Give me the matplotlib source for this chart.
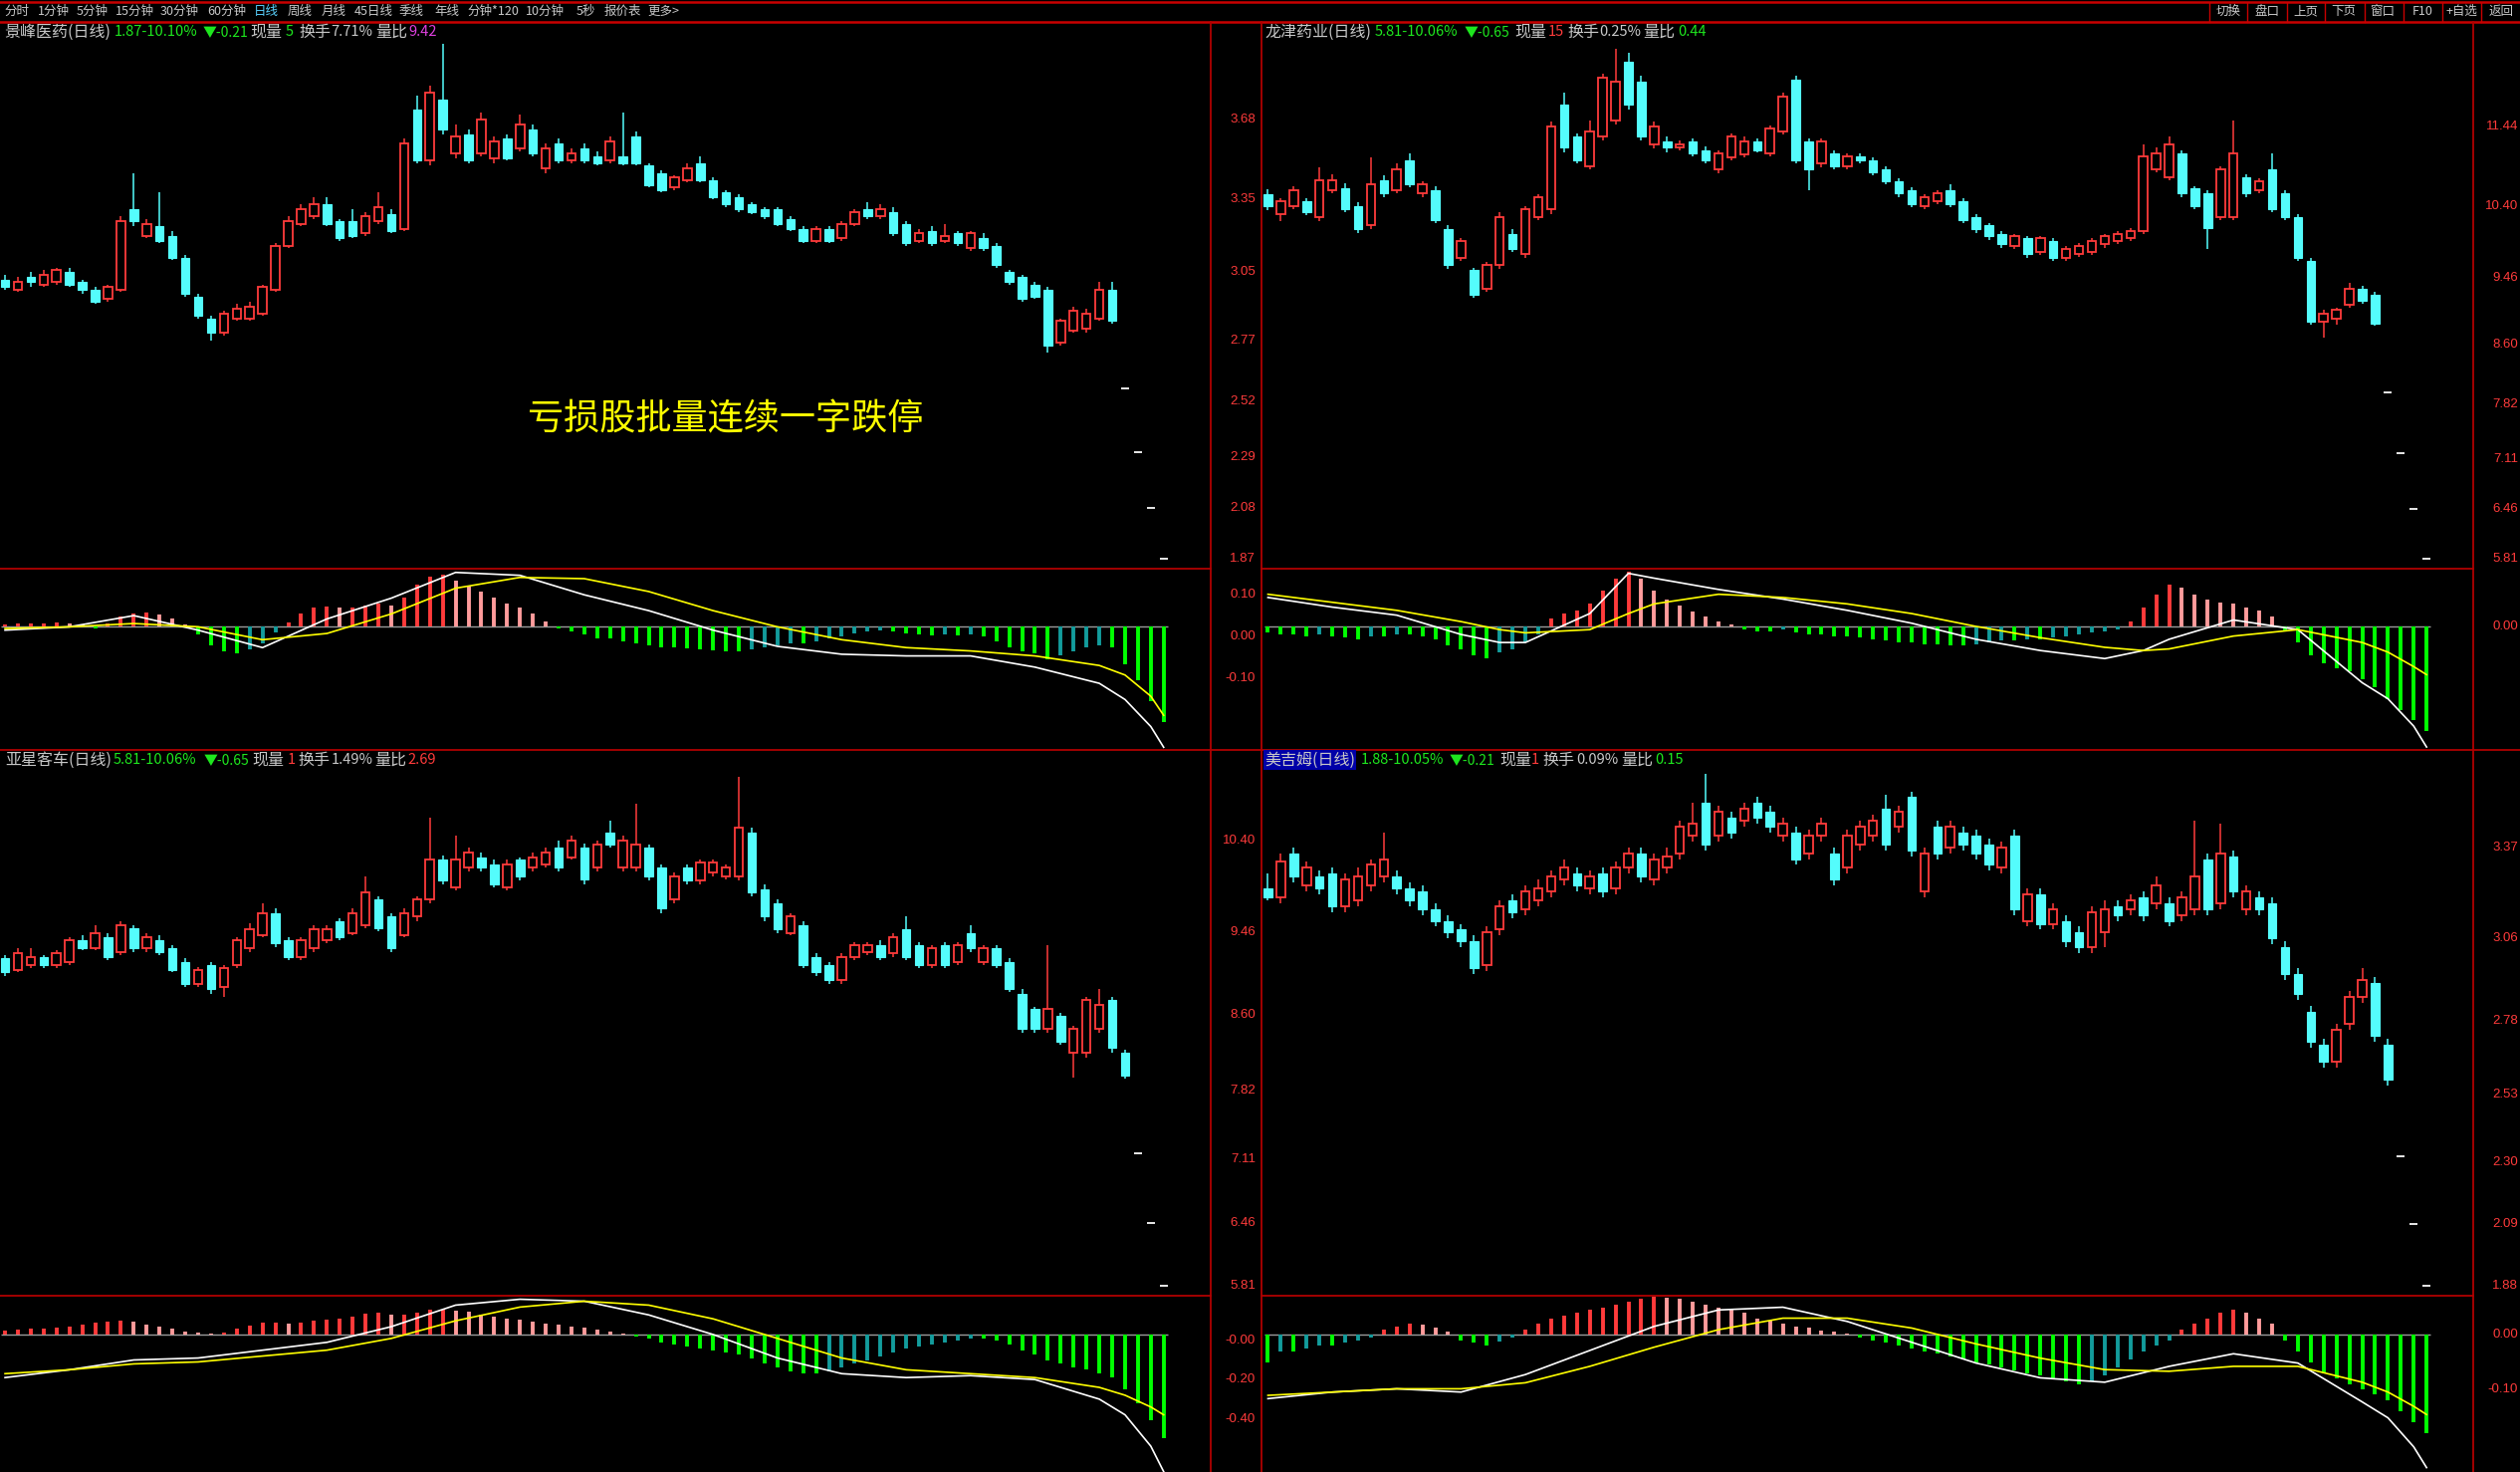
import numpy as np
import matplotlib
matplotlib.use('Agg')
import matplotlib.pyplot as plt
from matplotlib import transforms
from matplotlib.lines import Line2D

plt.rcParams['font.family'] = ['Noto Sans CJK SC', 'DejaVu Sans']

# ---------------- data ----------------
toolbar_items = ['分时', '1分钟', '5分钟', '15分钟', '30分钟', '60分钟', '日线', '周线', '月线',
                 '45日线', '季线', '年线', '分钟*120', '10分钟', '5秒', '报价表', '更多>']
toolbar_buttons = ['切换', '盘口', '上页', '下页', '窗口', 'F10', '+自选', '返回']
overlay_text = '亏损股批量连续一字跌停'

# Panel 1: 景峰医药
p1_open = [3.02,2.98,3.03,3.00,3.01,3.05,3.01,2.98,2.94,2.98, 3.31,3.20,3.24,3.20,3.11,2.95,2.86,2.80,2.86,2.86,
           2.88,2.98,3.16,3.25,3.28,3.33,3.26,3.26,3.21,3.26, 3.29,3.23,3.72,3.51,3.76,3.54,3.62,3.54,3.52,3.60,
           3.56,3.64,3.48,3.58,3.51,3.56,3.53,3.51,3.53,3.61, 3.49,3.46,3.40,3.43,3.50,3.43,3.38,3.36,3.33,3.31,
           3.31,3.27,3.23,3.18,3.23,3.19,3.25,3.31,3.28,3.30, 3.25,3.18,3.22,3.18,3.21,3.15,3.19,3.16,3.05,3.03,
           3.00,2.98,2.76,2.81,2.82,2.86,2.98, 2.57,2.31,2.08,1.87]
p1_close = [2.99,3.01,3.01,3.04,3.06,3.00,2.98,2.93,2.99,3.26, 3.26,3.25,3.18,3.11,2.96,2.87,2.80,2.88,2.90,2.91,
            2.99,3.16,3.26,3.31,3.33,3.25,3.19,3.20,3.28,3.32, 3.22,3.58,3.51,3.79,3.64,3.61,3.51,3.68,3.59,3.52,
            3.66,3.54,3.56,3.51,3.54,3.51,3.50,3.59,3.50,3.50, 3.41,3.39,3.44,3.48,3.43,3.36,3.33,3.31,3.30,3.28,
            3.25,3.23,3.18,3.23,3.18,3.25,3.30,3.28,3.31,3.21, 3.17,3.21,3.17,3.20,3.17,3.21,3.15,3.08,3.01,2.94,
            2.95,2.75,2.85,2.89,2.88,2.98,2.85, 2.57,2.31,2.08,1.87]
p1_high = [3.04,3.03,3.05,3.06,3.07,3.07,3.02,2.99,3.00,3.28, 3.46,3.27,3.38,3.22,3.12,2.96,2.87,2.89,2.92,2.93,
           3.00,3.17,3.28,3.33,3.36,3.36,3.27,3.31,3.30,3.38, 3.31,3.60,3.78,3.82,3.99,3.66,3.64,3.71,3.61,3.62,
           3.70,3.66,3.58,3.60,3.56,3.58,3.55,3.61,3.71,3.63, 3.50,3.47,3.45,3.50,3.53,3.44,3.39,3.37,3.34,3.32,
           3.32,3.28,3.24,3.24,3.24,3.26,3.31,3.34,3.33,3.32, 3.26,3.23,3.24,3.25,3.22,3.22,3.21,3.17,3.06,3.04,
           3.01,2.99,2.86,2.91,2.90,3.01,3.01, 2.57,2.31,2.08,1.87]
p1_low = [2.98,2.97,2.99,2.99,3.00,2.99,2.96,2.92,2.93,2.97, 3.24,3.19,3.17,3.10,2.95,2.86,2.77,2.79,2.85,2.85,
          2.87,2.97,3.15,3.24,3.27,3.24,3.18,3.19,3.20,3.25, 3.21,3.22,3.50,3.49,3.62,3.52,3.50,3.53,3.50,3.51,
          3.55,3.53,3.46,3.50,3.50,3.50,3.49,3.50,3.49,3.49, 3.40,3.38,3.39,3.42,3.42,3.35,3.32,3.30,3.29,3.27,
          3.24,3.22,3.17,3.17,3.17,3.18,3.24,3.27,3.27,3.20, 3.16,3.17,3.16,3.17,3.16,3.14,3.14,3.07,3.00,2.93,
          2.94,2.72,2.75,2.80,2.80,2.85,2.84, 2.57,2.31,2.08,1.87]
p1_hist = [0.005,0.006,0.008,0.008,0.01,0.008,0.004,-0.004,0.008,0.025,
           0.03,0.033,0.028,0.018,0.004,-0.02,-0.045,-0.06,-0.065,-0.055,
           -0.04,-0.015,0.01,0.03,0.045,0.048,0.045,0.045,0.05,0.055,
           0.05,0.07,0.1,0.12,0.125,0.11,0.095,0.085,0.07,0.055,
           0.045,0.03,0.012,-0.004,-0.012,-0.02,-0.028,-0.03,-0.035,-0.04,
           -0.045,-0.05,-0.05,-0.052,-0.055,-0.058,-0.06,-0.06,-0.055,-0.05,
           -0.045,-0.04,-0.04,-0.035,-0.03,-0.025,-0.018,-0.012,-0.01,-0.012,
           -0.018,-0.02,-0.022,-0.02,-0.022,-0.02,-0.025,-0.035,-0.05,-0.06,
           -0.065,-0.08,-0.07,-0.06,-0.05,-0.045,-0.05,-0.09,-0.13,-0.18,-0.23]
p1_line_idx = [0,5,10,15,20,25,30,35,40,45,50,55,60,65,70,75,80,85,87,89,90]
p1_dif = [-0.009,-0.001,0.026,-0.009,-0.051,0.018,0.068,0.130,0.123,0.076,0.038,-0.009,-0.048,
          -0.067,-0.071,-0.071,-0.098,-0.137,-0.176,-0.241,-0.291]
p1_dea = [-0.005,-0.001,0.007,-0.001,-0.032,-0.017,0.030,0.092,0.118,0.115,0.084,0.038,-0.001,
          -0.032,-0.051,-0.059,-0.071,-0.094,-0.117,-0.168,-0.214]

# Panel 2: 龙津药业
p2_open = [10.55,10.30,10.40,10.46,10.25,10.61,10.63,10.40,10.15,10.74,
           10.61,10.99,10.57,10.61,10.10,9.73,9.57,9.32,9.63,10.04,
           9.78,10.26,10.36,11.72,11.30,10.92,11.30,11.51,12.28,12.02,
           11.20,11.24,11.16,11.24,11.13,10.88,11.03,11.07,11.24,11.09,
           11.37,12.04,11.24,10.95,11.09,10.92,11.05,10.99,10.88,10.72,
           10.61,10.40,10.46,10.61,10.46,10.26,10.15,10.04,9.88,9.98,
           9.80,9.94,9.73,9.78,9.80,9.90,9.94,9.98,10.08,10.88,
           10.78,11.09,10.63,10.57,10.26,10.26,10.78,10.61,10.88,10.57,
           10.26,9.69,8.90,8.94,9.11,9.32,9.25, 7.98,7.18,6.46,5.81]
p2_close = [10.40,10.46,10.61,10.32,10.74,10.74,10.36,10.10,10.68,10.57,
            10.88,10.68,10.68,10.22,9.63,9.94,9.25,9.63,10.26,9.84,
            10.36,10.51,11.44,11.16,10.99,11.37,12.07,12.02,11.72,11.30,
            11.44,11.16,11.20,11.09,10.99,11.09,11.30,11.24,11.13,11.41,
            11.83,10.99,10.88,11.24,10.92,11.05,10.99,10.84,10.72,10.57,
            10.43,10.51,10.57,10.43,10.22,10.10,10.01,9.90,10.01,9.78,
            9.98,9.73,9.84,9.88,9.94,10.01,10.04,10.08,11.05,11.09,
            11.20,10.57,10.40,10.12,10.88,11.09,10.57,10.72,10.36,10.26,
            9.73,8.90,9.00,9.05,9.32,9.17,8.87, 7.98,7.18,6.46,5.81]
p2_high = [10.62,10.50,10.66,10.50,10.90,10.82,10.70,10.45,11.03,10.80,
           10.95,11.09,10.72,10.66,10.15,9.98,9.60,9.67,10.32,10.10,
           10.40,10.55,11.50,11.88,11.35,11.51,12.12,12.45,12.40,12.10,
           11.50,11.30,11.25,11.28,11.18,11.13,11.35,11.30,11.28,11.45,
           11.88,12.10,11.28,11.28,11.13,11.09,11.09,11.03,10.92,10.76,
           10.65,10.55,10.61,10.68,10.50,10.30,10.18,10.08,10.04,10.01,
           10.01,9.98,9.88,9.92,9.98,10.04,10.08,10.12,11.20,11.16,
           11.30,11.13,10.66,10.61,10.92,11.51,10.82,10.76,11.09,10.61,
           10.30,9.73,9.05,9.08,9.40,9.36,9.28, 7.98,7.18,6.46,5.81]
p2_low = [10.35,10.20,10.36,10.28,10.20,10.57,10.32,10.05,10.10,10.52,
          10.57,10.64,10.52,10.18,9.58,9.68,9.20,9.28,9.58,9.80,
          9.73,10.22,10.30,11.10,10.95,10.88,11.25,11.46,11.65,11.25,
          11.15,11.10,11.12,11.05,10.95,10.83,10.99,11.03,11.10,11.05,
          11.33,10.95,10.61,10.90,10.88,10.88,10.95,10.80,10.68,10.52,
          10.38,10.36,10.43,10.38,10.18,10.05,9.96,9.86,9.84,9.73,
          9.76,9.68,9.69,9.74,9.76,9.86,9.90,9.94,10.04,10.84,
          10.74,10.52,10.36,9.84,10.22,10.22,10.52,10.57,10.32,10.22,
          9.68,8.86,8.69,8.85,9.07,9.13,8.84, 7.98,7.18,6.46,5.81]
p2_hist = [-0.04,-0.05,-0.05,-0.06,-0.05,-0.06,-0.07,-0.08,-0.06,-0.06,-0.05,-0.05,-0.06,-0.08,
           -0.12,-0.14,-0.18,-0.2,-0.16,-0.14,-0.1,-0.05,
           0.05,0.08,0.1,0.14,0.22,0.3,0.34,0.3,0.22,0.17,0.13,0.09,0.06,0.03,0.01,
           -0.02,-0.03,-0.03,-0.02,-0.04,-0.05,-0.05,-0.06,-0.06,-0.07,-0.08,-0.09,-0.1,-0.1,-0.11,
           -0.11,-0.12,-0.12,-0.11,-0.1,-0.09,-0.09,-0.08,-0.08,-0.07,-0.06,-0.05,-0.04,-0.03,-0.02,
           0.03,0.12,0.2,0.26,0.24,0.2,0.17,0.15,0.14,0.12,0.1,0.06,
           -0.03,-0.1,-0.18,-0.23,-0.26,-0.28,-0.33,-0.38,-0.45,-0.52,-0.58,-0.65]
p2_line_idx = [0,5,10,15,18,20,25,28,30,35,40,45,50,55,60,65,68,70,75,80,85,87,89,90]
p2_dif = [0.18,0.12,0.07,-0.05,-0.10,-0.10,0.08,0.33,0.30,0.23,0.17,0.10,0.02,-0.08,-0.15,-0.20,
          -0.15,-0.08,0.04,-0.02,-0.35,-0.45,-0.62,-0.75]
p2_dea = [0.20,0.15,0.10,0.03,-0.02,-0.04,-0.02,0.08,0.14,0.20,0.18,0.14,0.08,0.0,-0.07,-0.13,
          -0.15,-0.14,-0.06,-0.02,-0.10,-0.16,-0.25,-0.30]

# Panel 3: 亚星客车
p3_open = [9.19,9.07,9.12,9.20,9.12,9.15,9.37,9.29,9.40,9.25,
           9.50,9.29,9.37,9.29,9.15,8.92,9.12,8.89,9.12,9.29,
           9.42,9.65,9.37,9.20,9.29,9.37,9.57,9.45,9.53,9.79,
           9.62,9.42,9.62,9.79,10.20,9.92,10.12,10.23,10.15,9.92,
           10.20,10.12,10.15,10.33,10.23,10.33,10.12,10.48,10.12,10.12,
           10.33,10.12,9.79,10.12,9.99,10.07,10.03,10.03,10.48,9.90,
           9.75,9.45,9.53,9.20,9.12,8.96,9.20,9.25,9.32,9.24,
           9.49,9.32,9.12,9.32,9.15,9.45,9.15,9.29,9.15,8.82,
           8.66,8.46,8.59,8.21,8.21,8.46,8.76,8.21, 7.18,6.46,5.81]
p3_close = [9.04,9.24,9.20,9.12,9.24,9.37,9.29,9.45,9.20,9.53,
            9.29,9.40,9.25,9.07,8.92,9.07,8.87,9.09,9.37,9.49,
            9.65,9.34,9.20,9.37,9.49,9.49,9.40,9.65,9.87,9.50,
            9.29,9.65,9.79,10.20,9.99,10.20,10.28,10.12,9.95,10.15,
            10.03,10.23,10.28,10.12,10.40,10.00,10.36,10.36,10.40,10.36,
            10.03,9.70,10.03,9.99,10.17,10.17,10.12,10.53,9.87,9.62,
            9.49,9.62,9.12,9.04,8.96,9.20,9.32,9.32,9.20,9.40,
            9.20,9.12,9.29,9.12,9.32,9.29,9.29,9.12,8.87,8.46,
            8.46,8.66,8.33,8.46,8.76,8.71,8.26,7.98, 7.18,6.46,5.81]
p3_high = [9.22,9.29,9.29,9.22,9.27,9.40,9.42,9.53,9.45,9.57,
           9.53,9.45,9.42,9.32,9.19,9.10,9.15,9.12,9.40,9.55,
           9.75,9.70,9.40,9.40,9.53,9.53,9.60,9.70,10.03,9.82,
           9.65,9.70,9.82,10.64,10.25,10.45,10.33,10.28,10.20,10.20,
           10.23,10.28,10.33,10.40,10.45,10.37,10.40,10.61,10.45,10.78,
           10.36,10.15,10.07,10.15,10.20,10.20,10.15,11.06,10.53,9.95,
           9.79,9.65,9.57,9.24,9.15,9.24,9.35,9.35,9.37,9.45,
           9.62,9.35,9.32,9.35,9.35,9.53,9.32,9.32,9.19,8.87,
           8.69,9.32,8.62,8.49,8.79,8.87,8.79,8.24, 7.18,6.46,5.81]
p3_low = [9.00,9.04,9.09,9.09,9.09,9.12,9.27,9.27,9.17,9.22,
          9.25,9.25,9.22,9.04,8.89,8.89,8.82,8.79,9.09,9.25,
          9.40,9.30,9.17,9.17,9.25,9.34,9.37,9.42,9.50,9.47,
          9.25,9.40,9.57,9.75,9.95,9.89,10.08,10.08,9.92,9.89,
          9.99,10.08,10.12,10.08,10.20,9.95,10.08,10.33,10.08,10.08,
          9.99,9.65,9.75,9.95,9.95,10.03,10.00,9.99,9.82,9.57,
          9.45,9.42,9.09,9.00,8.92,8.92,9.17,9.22,9.17,9.20,
          9.17,9.09,9.09,9.09,9.12,9.25,9.12,9.09,8.84,8.42,
          8.42,8.42,8.29,7.96,8.16,8.42,8.21,7.95, 7.18,6.46,5.81]
p3_hist = [0.02,0.025,0.03,0.03,0.035,0.04,0.05,
           0.06,0.065,0.07,0.065,0.05,0.04,0.03,
           0.015,0.01,0.005,0.01,
           0.03,0.045,0.06,0.06,0.055,0.06,0.07,0.075,0.08,0.09,0.105,
           0.11,0.1,0.1,0.11,0.125,0.125,0.12,0.115,
           0.1,0.09,0.08,0.075,0.065,0.055,0.05,0.04,0.035,0.025,0.015,0.005,
           -0.01,-0.02,-0.04,-0.05,-0.06,-0.07,-0.08,-0.09,-0.1,-0.12,-0.15,-0.17,-0.19,-0.2,
           -0.2,-0.19,-0.17,-0.15,-0.13,-0.11,-0.09,-0.07,-0.06,-0.05,-0.04,-0.03,
           -0.02,-0.02,-0.03,-0.05,-0.08,-0.1,
           -0.13,-0.15,-0.17,-0.18,-0.2,-0.22,-0.28,-0.35,-0.44,-0.53]
p3_line_idx = [0,5,10,15,20,25,30,35,40,45,50,55,60,65,70,75,80,85,87,89,90]
p3_dif = [-0.22,-0.18,-0.13,-0.12,-0.08,-0.04,0.04,0.15,0.18,0.17,0.10,0.0,-0.12,-0.20,-0.22,
          -0.21,-0.23,-0.33,-0.41,-0.57,-0.70]
p3_dea = [-0.20,-0.18,-0.15,-0.14,-0.11,-0.08,-0.02,0.07,0.14,0.17,0.15,0.08,-0.02,-0.12,-0.18,
          -0.20,-0.22,-0.27,-0.31,-0.37,-0.41]

# Panel 4: 美吉姆
p4_open = [3.23,3.20,3.35,3.24,3.27,3.28,3.17,3.19,3.24,3.27,
           3.27,3.23,3.22,3.16,3.12,3.09,3.05,2.97,3.09,3.19,
           3.16,3.19,3.22,3.26,3.28,3.23,3.28,3.23,3.30,3.35,
           3.26,3.30,3.35,3.41,3.52,3.41,3.47,3.46,3.52,3.49,
           3.41,3.42,3.35,3.41,3.35,3.30,3.38,3.41,3.50,3.44,
           3.54,3.22,3.44,3.37,3.42,3.41,3.38,3.30,3.41,3.12,
           3.21,3.11,3.12,3.08,3.03,3.08,3.17,3.16,3.20,3.18,
           3.18,3.14,3.16,3.33,3.18,3.34,3.16,3.20,3.18,3.03,
           2.94,2.81,2.70,2.64,2.77,2.86,2.91,2.70, 2.32,2.09,1.88]
p4_close = [3.20,3.32,3.27,3.30,3.23,3.17,3.26,3.27,3.31,3.33,
            3.23,3.19,3.16,3.12,3.08,3.05,2.96,3.08,3.17,3.15,
            3.22,3.23,3.27,3.30,3.24,3.27,3.22,3.30,3.35,3.27,
            3.33,3.34,3.44,3.45,3.38,3.49,3.42,3.50,3.47,3.44,
            3.45,3.33,3.41,3.45,3.26,3.41,3.44,3.46,3.38,3.49,
            3.36,3.35,3.35,3.44,3.38,3.35,3.31,3.37,3.16,3.21,
            3.11,3.16,3.05,3.03,3.15,3.16,3.14,3.19,3.14,3.24,
            3.12,3.20,3.27,3.16,3.35,3.22,3.22,3.16,3.06,2.94,
            2.87,2.71,2.64,2.75,2.86,2.92,2.73,2.58, 2.32,2.09,1.88]
p4_high = [3.28,3.35,3.37,3.32,3.29,3.30,3.28,3.30,3.33,3.42,
           3.29,3.25,3.24,3.18,3.14,3.11,3.07,3.10,3.19,3.21,
           3.24,3.26,3.29,3.33,3.30,3.29,3.30,3.32,3.37,3.37,
           3.35,3.37,3.46,3.52,3.62,3.51,3.49,3.52,3.54,3.51,
           3.47,3.44,3.43,3.47,3.37,3.43,3.46,3.48,3.55,3.51,
           3.56,3.37,3.46,3.46,3.44,3.43,3.40,3.39,3.43,3.23,
           3.23,3.18,3.14,3.10,3.17,3.19,3.19,3.21,3.22,3.27,
           3.20,3.22,3.46,3.35,3.45,3.36,3.24,3.22,3.20,3.05,
           2.96,2.83,2.72,2.77,2.88,2.96,2.93,2.72, 2.32,2.09,1.88]
p4_low = [3.19,3.18,3.25,3.22,3.21,3.15,3.15,3.17,3.22,3.25,
          3.21,3.17,3.14,3.10,3.06,3.03,2.94,2.95,3.07,3.13,
          3.14,3.17,3.20,3.24,3.22,3.21,3.20,3.21,3.28,3.25,
          3.24,3.28,3.33,3.39,3.36,3.39,3.40,3.44,3.45,3.42,
          3.39,3.31,3.33,3.39,3.24,3.28,3.36,3.39,3.36,3.42,
          3.34,3.20,3.33,3.35,3.36,3.33,3.29,3.28,3.14,3.10,
          3.09,3.09,3.03,3.01,3.01,3.03,3.12,3.14,3.12,3.16,
          3.10,3.12,3.14,3.14,3.16,3.20,3.14,3.14,3.04,2.92,
          2.85,2.69,2.62,2.62,2.75,2.84,2.71,2.56, 2.32,2.09,1.88]
p4_hist = [-0.05,-0.03,-0.03,-0.025,-0.02,-0.02,-0.015,-0.01,-0.005,
           0.01,0.015,0.02,0.018,0.012,0.005,
           -0.01,-0.015,-0.02,-0.012,-0.005,
           0.01,0.02,0.03,0.035,0.04,0.045,0.05,0.055,0.06,0.065,0.07,0.068,0.065,0.06,0.055,0.05,
           0.045,0.04,0.03,0.025,
           0.02,0.015,0.012,0.008,0.005,0.002,
           -0.005,-0.01,-0.015,-0.02,-0.025,-0.03,-0.035,-0.04,-0.045,-0.05,-0.055,-0.06,-0.065,
           -0.07,-0.075,-0.08,-0.085,-0.09,-0.085,-0.075,-0.06,-0.045,-0.03,-0.02,-0.01,
           0.01,0.02,0.03,0.04,0.045,0.04,0.03,0.02,
           -0.01,-0.03,-0.05,-0.07,-0.08,-0.09,-0.1,-0.11,-0.12,-0.14,-0.16,-0.18]
p4_line_idx = [0,5,10,15,20,25,30,35,40,45,50,55,60,65,70,75,80,85,87,89,90]
p4_dif = [-0.117,-0.105,-0.099,-0.105,-0.073,-0.029,0.015,0.045,0.050,0.024,-0.014,-0.052,-0.079,
          -0.087,-0.058,-0.035,-0.052,-0.123,-0.152,-0.205,-0.243]
p4_dea = [-0.111,-0.105,-0.099,-0.099,-0.088,-0.058,-0.023,0.009,0.030,0.030,0.012,-0.017,-0.043,
          -0.064,-0.067,-0.058,-0.058,-0.087,-0.105,-0.131,-0.146]

# axis labels
p1_ticks = [3.68, 3.35, 3.05, 2.77, 2.52, 2.29, 2.08, 1.87]
p2_ticks = [11.44, 10.40, 9.46, 8.60, 7.82, 7.11, 6.46, 5.81]
p3_ticks = [10.40, 9.46, 8.60, 7.82, 7.11, 6.46, 5.81]
p4_ticks = [3.37, 3.06, 2.78, 2.53, 2.30, 2.09, 1.88]
p1_macd_ticks = [0.10, 0.00, -0.10]
p1_macd_labels = ['0.10', '0.00', '-0.10']
p2_macd_ticks = [0.00]
p2_macd_labels = ['0.00']
p3_macd_ticks = [0.00, -0.20, -0.40]
p3_macd_labels = ['-0.00', '-0.20', '-0.40']
p4_macd_ticks = [0.00, -0.10]
p4_macd_labels = ['0.00', '-0.10']

# header segments (text, colour key)
p1_header = [('景峰医药(日线)', 'g'), ('1.87-10.10%', 'G'), ('▼-0.21', 'G'), ('现量', 'g'), ('5', 'G'),
             ('换手', 'g'), ('7.71%', 'g'), ('量比', 'g'), ('9.42', 'M')]
p2_header = [('龙津药业(日线)', 'g'), ('5.81-10.06%', 'G'), ('▼-0.65', 'G'), ('现量', 'g'), ('15', 'R'),
             ('换手', 'g'), ('0.25%', 'g'), ('量比', 'g'), ('0.44', 'G')]
p3_header = [('亚星客车(日线)', 'g'), ('5.81-10.06%', 'G'), ('▼-0.65', 'G'), ('现量', 'g'), ('1', 'R'),
             ('换手', 'g'), ('1.49%', 'g'), ('量比', 'g'), ('2.69', 'R')]
p4_header = [('美吉姆(日线)', 'g'), ('1.88-10.05%', 'G'), ('▼-0.21', 'G'), ('现量', 'g'), ('1', 'R'),
             ('换手', 'g'), ('0.09%', 'g'), ('量比', 'g'), ('0.15', 'G')]

# ---------------- drawing ----------------
W, H = 2531, 1478
fig = plt.figure(figsize=(W / 100, H / 100), dpi=100, facecolor='black')

FRAME = '#b00000'
AXTXT = '#ff3b3b'
UPC = '#ff3b3b'
DNC = '#54fcfc'
COLS = {'g': '#c8c8c8', 'G': '#1ee61e', 'R': '#ff3b3b', 'M': '#e040e0'}


def fx(x):
    return x / W


def fy(y):
    return 1 - y / H


def add_ax(x0, y0, x1, y1, ylim, xleft):
    ax = fig.add_axes([fx(x0), fy(y1), (x1 - x0) / W, (y1 - y0) / H])
    ax.set_facecolor('black')
    step = 12.93
    ax.set_xlim(xleft, xleft + (x1 - x0) / step)
    ax.set_ylim(*ylim)
    ax.set_axis_off()
    return ax


def draw_candles(ax, o, h, l, c):
    o, h, l, c = map(np.asarray, (o, h, l, c))
    x = np.arange(len(o))
    flat = (o == c) & (h == l)
    up = (c > o) & ~flat
    dn = (c <= o) & ~flat
    ax.vlines(x[up], l[up], h[up], color=UPC, lw=1.1, zorder=1)
    ax.vlines(x[dn], l[dn], h[dn], color=DNC, lw=1.1, zorder=1)
    ax.bar(x[up], c[up] - o[up], bottom=o[up], width=0.66, facecolor='black',
           edgecolor=UPC, linewidth=1.3, zorder=2)
    ax.bar(x[dn], o[dn] - c[dn], bottom=c[dn], width=0.66, facecolor=DNC,
           edgecolor=DNC, linewidth=0.8, zorder=2)
    ax.hlines(c[flat], x[flat] - 0.3, x[flat] + 0.3, color='#e8e8e8', lw=1.4, zorder=2)


def draw_macd(ax, hist, idx, dif, dea):
    hist = np.asarray(hist)
    x = np.arange(len(hist))
    prev = np.concatenate([[0.0], hist[:-1]])
    cols = []
    for v, p in zip(hist, prev):
        if v >= 0:
            cols.append('#ff3b3b' if v >= p else '#ff9c9c')
        else:
            cols.append('#00ff00' if v <= p else '#139c9c')
    ax.hlines(0, -0.3, len(hist) - 0.7, color='#9a9a9a', lw=1.0, zorder=1)
    ax.vlines(x, 0, hist, colors=cols, lw=2.8, zorder=2)
    ax.plot(idx, dif, color='white', lw=1.2, zorder=3)
    ax.plot(idx, dea, color='#ffff00', lw=1.2, zorder=3)


def axis_labels(ax, xr, vals, texts, dy=0):
    tr = transforms.blended_transform_factory(fig.transFigure, ax.transData)
    if dy:
        tr = transforms.offset_copy(tr, fig=fig, y=dy, units='dots')
    for v, t in zip(vals, texts):
        fig.text(fx(xr), v, t, transform=tr, ha='right', va='center', color=AXTXT,
                 fontsize=9.5, family=['Liberation Sans', 'DejaVu Sans'])


def header(segs, xs, y, hl=False):
    for k, ((t, ck), xx) in enumerate(zip(segs, xs)):
        kw = {}
        if hl and k == 0:
            kw['bbox'] = dict(facecolor='#0000a8', edgecolor='none', pad=1.0)
        if t.startswith('▼'):
            size = 10.0
        elif any(ord(ch) > 0x2E80 for ch in t):
            size = 11.5
        else:
            size = 10.5
        fig.text(fx(xx), fy(y), t, ha='left', va='center', color=COLS[ck], fontsize=size, **kw)


# panels
a1 = add_ax(0, 22, 1216, 571, (1.829, 4.082), -0.39)
m1 = add_ax(0, 571, 1216, 752, (-0.295, 0.139), -0.39)
a2 = add_ax(1267, 22, 2484, 571, (5.680, 12.797), -0.5)
m2 = add_ax(1267, 571, 2484, 752, (-0.762, 0.359), -0.5)
a3 = add_ax(0, 752, 1216, 1301, (5.707, 11.345), -0.39)
m3 = add_ax(0, 1301, 1216, 1478, (-0.702, 0.198), -0.39)
a4 = add_ax(1267, 752, 2484, 1301, (1.846, 3.704), -0.5)
m4 = add_ax(1267, 1301, 2484, 1478, (-0.251, 0.071), -0.5)

draw_candles(a1, p1_open, p1_high, p1_low, p1_close)
draw_candles(a2, p2_open, p2_high, p2_low, p2_close)
draw_candles(a3, p3_open, p3_high, p3_low, p3_close)
draw_candles(a4, p4_open, p4_high, p4_low, p4_close)
draw_macd(m1, p1_hist, p1_line_idx, p1_dif, p1_dea)
draw_macd(m2, p2_hist, p2_line_idx, p2_dif, p2_dea)
draw_macd(m3, p3_hist, p3_line_idx, p3_dif, p3_dea)
draw_macd(m4, p4_hist, p4_line_idx, p4_dif, p4_dea)

axis_labels(a1, 1261, p1_ticks, ['%.2f' % v for v in p1_ticks])
axis_labels(a2, 2529, p2_ticks, ['%.2f' % v for v in p2_ticks])
axis_labels(a3, 1261, p3_ticks, ['%.2f' % v for v in p3_ticks])
axis_labels(a4, 2529, p4_ticks, ['%.2f' % v for v in p4_ticks])
axis_labels(m1, 1261, p1_macd_ticks, p1_macd_labels, dy=-10)
axis_labels(m2, 2529, p2_macd_ticks, p2_macd_labels)
axis_labels(m3, 1261, p3_macd_ticks, p3_macd_labels, dy=-6)
axis_labels(m4, 2529, p4_macd_ticks, p4_macd_labels)

# frame lines
def fline(x0, y0, x1, y1, lw=1.3, color=FRAME):
    fig.add_artist(Line2D([fx(x0), fx(x1)], [fy(y0), fy(y1)], color=color, lw=lw,
                          transform=fig.transFigure))

fline(0, 1.5, W, 1.5, lw=1.8, color='#c80000')
fline(0, 22, W, 22, lw=1.8, color='#c80000')
for yy in (571, 1301):
    fline(0, yy, 1216, yy)
    fline(1267, yy, 2484, yy)
fline(0, 753, W, 753)
for xx in (1216, 1267, 2484):
    fline(xx, 22, xx, H)
for xx in (2219, 2257, 2297, 2335, 2375, 2414, 2453, 2492):
    fline(xx, 3, xx, 22, lw=1.0, color='#c80000')

# toolbar
tb_x = [4, 38, 77, 116, 161, 208, 255, 289, 323, 356, 401, 436, 469, 528, 579, 607, 650]
for t, xx in zip(toolbar_items, tb_x):
    fig.text(fx(xx), fy(11.5), t, ha='left', va='center', fontsize=9,
             color='#5ad2ff' if t == '日线' else '#c8c8c8')
btn_x = [2238, 2277, 2316, 2354, 2393, 2433, 2472, 2512]
for t, xx in zip(toolbar_buttons, btn_x):
    fig.text(fx(xx), fy(11.5), t, ha='center', va='center', fontsize=9, color='#c8c8c8')

# headers
header(p1_header, [4, 115, 204, 251, 287, 300, 332, 377, 410], 32)
header(p2_header, [1270, 1381, 1471, 1521, 1555, 1574, 1606, 1650, 1685], 32)
header(p3_header, [5, 114, 205, 253, 289, 299, 333, 376, 409], 763)
header(p4_header, [1270, 1367, 1456, 1506, 1538, 1549, 1583, 1628, 1662], 763, hl=True)

fig.text(fx(729), fy(421), overlay_text, ha='center', va='center', color='#ffff00', fontsize=26)

fig.savefig('out.png', dpi=100, facecolor='black')
